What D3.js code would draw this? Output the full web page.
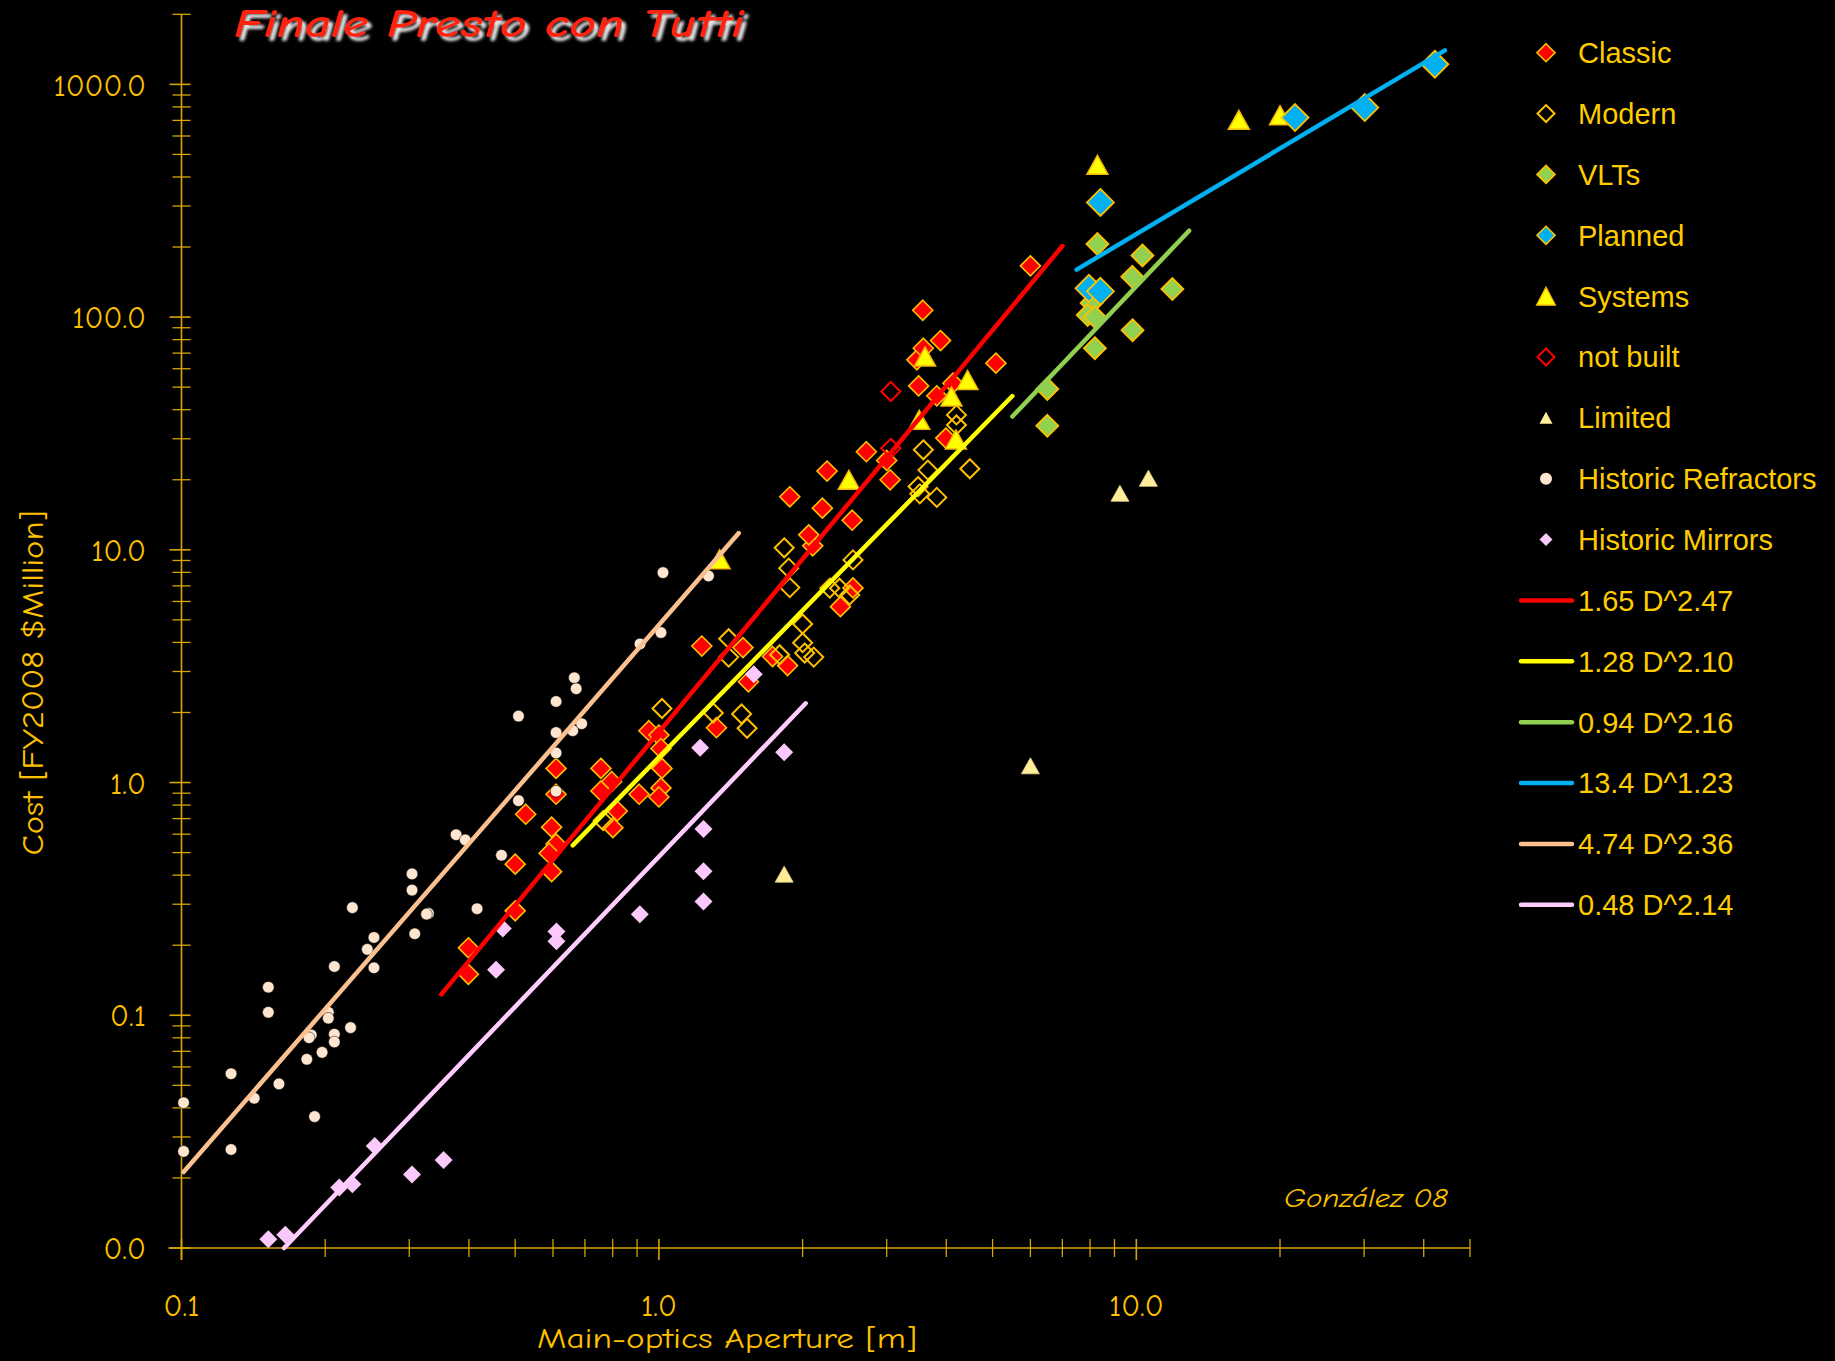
<!DOCTYPE html>
<html><head><meta charset="utf-8">
<script src="https://cdn.jsdelivr.net/npm/d3@7"></script>
<style>
html,body{margin:0;padding:0;background:#000;}
svg{display:block;}
</style></head><body>
<svg id="chart" width="1835" height="1361"></svg>
<script>
// ---------------- DATA (aperture D [m], cost [FY2008 $M]) ----------------
const classic = [[0.399,0.195],[0.399,0.150],[0.500,0.446],[0.500,0.281],[0.526,0.731],[0.596,0.643],[0.609,0.545],[0.589,0.497],[0.596,0.414],[0.609,1.15],[0.609,0.891],[0.756,1.15],[0.796,1.01],[0.756,0.920],[0.909,0.891],[0.818,0.755],[0.801,0.640],[0.953,1.67],[1.00,1.60],[1.01,1.40],[1.015,1.15],[1.01,0.948],[1.00,0.867],[1.23,3.86],[1.50,3.80],[1.32,1.72],[1.54,2.71],[1.73,3.48],[1.86,3.18],[2.40,5.70],[2.55,6.86],[2.10,10.4],[2.06,11.6],[2.54,13.4],[1.88,16.9],[2.20,15.1],[2.25,21.8],[2.72,26.4],[3.05,20.0],[3.00,24.2],[3.99,30.2],[3.50,50.6],[3.82,45.9],[4.13,52.0],[3.47,65.5],[3.58,73.5],[3.89,79.3],[3.57,107],[5.08,63.4],[6.00,166]];
const modern = [[1.015,2.08],[0.764,0.686],[1.40,4.15],[1.40,3.46],[1.83,10.2],[1.87,8.34],[1.88,6.88],[2.55,9.05],[2.28,6.84],[2.39,6.84],[2.51,6.40],[2.00,4.80],[2.00,3.99],[1.79,3.54],[2.02,3.60],[2.11,3.46],[1.49,1.97],[1.53,1.71],[1.30,1.99],[3.58,26.9],[3.66,22.0],[3.49,18.7],[3.52,17.4],[3.82,16.8],[4.48,22.3],[4.20,38.0],[4.20,34.4]];
const vlts = [[8.29,206],[10.3,184],[9.81,149],[11.9,132],[8.06,115],[7.91,102],[8.19,100],[9.82,87.8],[8.19,73.5],[6.51,49.1],[6.51,34.1]];
const planned = [[42.2,1220],[30.1,795],[21.5,720],[8.41,311],[7.96,133],[8.41,129]];
const systems = [[1.34,9.11],[2.50,20.0],[3.51,36.2],[3.61,67.7],[4.10,45.6],[4.43,53.7],[4.19,29.8],[8.29,451],[16.4,704],[20.0,737]];
const notBuilt = [[3.06,47.9],[3.06,27.3]];
const limited = [[1.83,0.404],[6.00,1.18],[9.24,17.5],[10.6,20.3]];
const refractors = [[0.101,0.0421],[0.101,0.0260],[0.127,0.0561],[0.127,0.0265],[0.142,0.0440],[0.152,0.132],[0.152,0.103],[0.160,0.0507],[0.183,0.0647],[0.187,0.0823],[0.185,0.0801],[0.190,0.0367],[0.197,0.0693],[0.203,0.103],[0.203,0.0971],[0.209,0.162],[0.209,0.0829],[0.209,0.0768],[0.226,0.0885],[0.228,0.290],[0.245,0.192],[0.253,0.216],[0.253,0.160],[0.304,0.405],[0.304,0.345],[0.308,0.224],[0.329,0.274],[0.326,0.272],[0.376,0.597],[0.393,0.567],[0.416,0.287],[0.468,0.487],[0.508,1.93],[0.508,0.836],[0.609,2.23],[0.609,1.64],[0.609,1.34],[0.609,0.918],[0.660,1.67],[0.665,2.82],[0.671,2.53],[0.689,1.79],[0.913,3.94],[1.01,4.41],[1.02,7.98],[1.27,7.72]];
const mirrors = [[0.152,0.0109],[0.165,0.0114],[0.214,0.0182],[0.228,0.0188],[0.254,0.0274],[0.304,0.0207],[0.354,0.0239],[0.456,0.157],[0.471,0.236],[0.610,0.208],[0.610,0.229],[0.912,0.272],[1.24,0.308],[1.24,0.416],[1.24,0.632],[1.22,1.41],[1.83,1.35],[1.58,2.92]];

// power-law fit lines: endpoints
const fitClassic = [[0.35,0.123],[7.0,202]];
const fitModern = [[0.66,0.537],[5.5,45.8]];
const fitVLT = [[5.5,37.4],[12.9,235]];
const fitPlanned = [[7.5,160],[44.3,1400]];
const fitRefractors = [[0.101,0.0212],[1.47,11.8]];
const fitMirrors = [[0.164,0.0100],[2.03,2.19]];
const fitLabels = ["1.65 D^2.47","1.28 D^2.10","0.94 D^2.16","13.4 D^1.23","4.74 D^2.36","0.48 D^2.14"];

const seriesLabels = ["Classic","Modern","VLTs","Planned","Systems","not built","Limited","Historic Refractors","Historic Mirrors"];
const xTickValues = [0.1,1,10];
const xTickLabels = ["0.1","1.0","10.0"];
const yTickValues = [0.01,0.1,1,10,100,1000];
const yTickLabels = ["0.0","0.1","1.0","10.0","100.0","1000.0"];
const titleText = "Finale Presto con Tutti";
const xTitle = "Main-optics Aperture [m]";
const yTitle = "Cost [FY2008 $Million]";
const credit = "González 08";

// ---------------- DRAWING ----------------
const svg = d3.select("#chart");
const W = 1835, H = 1361;
svg.append("rect").attr("width",W).attr("height",H).attr("fill","#000");

const x = d3.scaleLog().domain([0.1,50]).range([181.5,1470]);
const y = d3.scaleLog().domain([0.01,2000]).range([1248,14.3]);

const defs = svg.append("defs");
const f = defs.append("filter").attr("id","shadow").attr("x","-10%").attr("y","-30%").attr("width","130%").attr("height","180%");
f.append("feDropShadow").attr("dx",4).attr("dy",4).attr("stdDeviation",1.6).attr("flood-color","#e8e8e8").attr("flood-opacity",1);

const comic = "'Comic Sans MS','Comic Neue','DejaVu Sans',sans-serif";
const arial = "Arial,'Liberation Sans',sans-serif";
const axisCol = "#D9A406";
const textCol = "#FFC000";

// axes lines
const x0 = x(0.1), y0 = y(0.01);
const ax = svg.append("g").attr("stroke",axisCol).attr("stroke-width",1.6);
ax.append("line").attr("x1",x0-13).attr("x2",x(50)).attr("y1",y0).attr("y2",y0);
ax.append("line").attr("x1",x0).attr("x2",x0).attr("y1",y(2000)).attr("y2",y0+12);

// y ticks
[0.01,0.1,1,10,100,1000].forEach(d=>{
  for(let m=1;m<=9;m++){
    const v=d*m; if(v>2000.0001) break;
    const yy=y(v);
    ax.append("line").attr("x1",m===1?x0-12:x0-9).attr("x2",x0+9).attr("y1",yy).attr("y2",yy)
      .attr("stroke-width",m===1?1.6:1.3);
  }
});
// x ticks
[0.1,1,10].forEach(d=>{
  for(let m=1;m<=9;m++){
    const v=d*m; if(v>50.0001) break;
    const xx=x(v);
    ax.append("line").attr("x1",xx).attr("x2",xx).attr("y1",y0-9).attr("y2",m===1?y0+12:y0+9)
      .attr("stroke-width",m===1?1.6:1.3);
  }
});

// tick labels
svg.append("g").selectAll("text").data(yTickValues).join("text")
  .attr("x",146).attr("y",d=>y(d)).attr("dy","0.36em").attr("text-anchor","end")
  .attr("font-family",comic).attr("font-size",31).attr("fill",textCol)
  .text((d,i)=>yTickLabels[i]);
svg.append("g").selectAll("text").data(xTickValues).join("text")
  .attr("x",d=>x(d)).attr("y",1316).attr("text-anchor","middle")
  .attr("font-family",comic).attr("font-size",31).attr("fill",textCol)
  .text((d,i)=>xTickLabels[i]);

// axis titles
svg.append("text").attr("x",727).attr("y",1348).attr("text-anchor","middle")
  .attr("font-family",comic).attr("font-size",29).attr("fill",textCol)
  .attr("textLength",380).attr("lengthAdjust","spacingAndGlyphs").text(xTitle);
svg.append("text").attr("transform","translate(43,683) rotate(-90)").attr("text-anchor","middle")
  .attr("font-family",comic).attr("font-size",30).attr("fill",textCol)
  .attr("textLength",345).attr("lengthAdjust","spacingAndGlyphs").text(yTitle);
svg.append("text").attr("x",1284).attr("y",1207)
  .attr("font-family",comic).attr("font-size",27).attr("font-style","italic").attr("fill",textCol)
  .attr("textLength",164).attr("lengthAdjust","spacingAndGlyphs").text(credit);

// title
svg.append("text").attr("x",234).attr("y",37)
  .attr("font-family",comic).attr("font-size",40).attr("font-weight","bold").attr("font-style","italic")
  .attr("fill","#FF2010").attr("filter","url(#shadow)")
  .attr("textLength",510).attr("lengthAdjust","spacingAndGlyphs").text(titleText);

// marker paths
const diamond = r => `M0,${-r}L${r},0L0,${r}L${-r},0Z`;
const tri = (w,h) => `M0,${-h/2}L${w/2},${h/2}L${-w/2},${h/2}Z`;

function drawPaths(data, path, fill, stroke, sw){
  svg.append("g").selectAll("path").data(data).join("path")
    .attr("transform",d=>`translate(${x(d[0])},${y(d[1])})`)
    .attr("d",path).attr("fill",fill).attr("stroke",stroke).attr("stroke-width",sw);
}
drawPaths(classic, diamond(10), "#FF0000", "#FFC000", 1.6);
drawPaths(modern, diamond(9.5), "none", "#FFC000", 2);
drawPaths(vlts, diamond(11), "#92D050", "#FFC000", 1.8);
drawPaths(systems, tri(21,19), "#FFFF00", "#F2B705", 1.5);
drawPaths(planned, diamond(13.5), "#00B0F0", "#FFC000", 1.8);
drawPaths(notBuilt, diamond(9.5), "none", "#FF0000", 2);
drawPaths(limited, tri(18,16), "#FFEE99", "#E8D48A", 0.8);
svg.append("g").selectAll("circle").data(refractors).join("circle")
  .attr("cx",d=>x(d[0])).attr("cy",d=>y(d[1])).attr("r",5.8)
  .attr("fill","#FDE5CF").attr("stroke","#000").attr("stroke-width",0.5);
drawPaths(mirrors, diamond(9), "#FAC8FA", "none", 0);

// fit lines
const fits = [fitClassic, fitModern, fitVLT, fitPlanned, fitRefractors, fitMirrors];
const fitColors = ["#FF0000","#FFFF00","#92D050","#00B0F0","#FAC08F","#FFCCFF"];
const line = d3.line().x(d=>x(d[0])).y(d=>y(d[1]));
fits.forEach((pts,i)=>{
  svg.append("path").attr("d",line(pts)).attr("fill","none")
    .attr("stroke",fitColors[i]).attr("stroke-width",4.5).attr("stroke-linecap","round");
});

// legend
const lg = svg.append("g");
const rowY = i => 52.7 + 60.86*i;
const legendMarkers = [
  {p:diamond(9), fill:"#FF0000", stroke:"#FFC000", sw:1.6},
  {p:diamond(8.5), fill:"none", stroke:"#FFC000", sw:2},
  {p:diamond(9), fill:"#92D050", stroke:"#FFC000", sw:1.6},
  {p:diamond(9), fill:"#00B0F0", stroke:"#FFC000", sw:1.6},
  {p:tri(19,18), fill:"#FFFF00", stroke:"#F2B705", sw:1.2},
  {p:diamond(8.5), fill:"none", stroke:"#FF0000", sw:2},
  {p:tri(13,12), fill:"#FFEE99", stroke:"none", sw:0},
  {circle:true, fill:"#FDE5CF"},
  {p:diamond(6.5), fill:"#FAC8FA", stroke:"none", sw:0}
];
seriesLabels.forEach((lab,i)=>{
  const m = legendMarkers[i];
  const cy = rowY(i);
  if(m.circle){
    lg.append("circle").attr("cx",1546).attr("cy",cy).attr("r",6).attr("fill",m.fill);
  } else {
    lg.append("path").attr("transform",`translate(1546,${cy})`).attr("d",m.p)
      .attr("fill",m.fill).attr("stroke",m.stroke).attr("stroke-width",m.sw);
  }
  lg.append("text").attr("x",1578).attr("y",cy).attr("dy","0.36em")
    .attr("font-family",arial).attr("font-size",29).attr("fill","#FFCC00").text(lab);
});
fitLabels.forEach((lab,i)=>{
  const cy = rowY(9+i);
  lg.append("line").attr("x1",1521).attr("x2",1572).attr("y1",cy).attr("y2",cy)
    .attr("stroke",fitColors[i]).attr("stroke-width",4.5).attr("stroke-linecap","round");
  lg.append("text").attr("x",1578).attr("y",cy).attr("dy","0.36em")
    .attr("font-family",arial).attr("font-size",29).attr("fill","#FFCC00").text(lab);
});
</script>
</body></html>
